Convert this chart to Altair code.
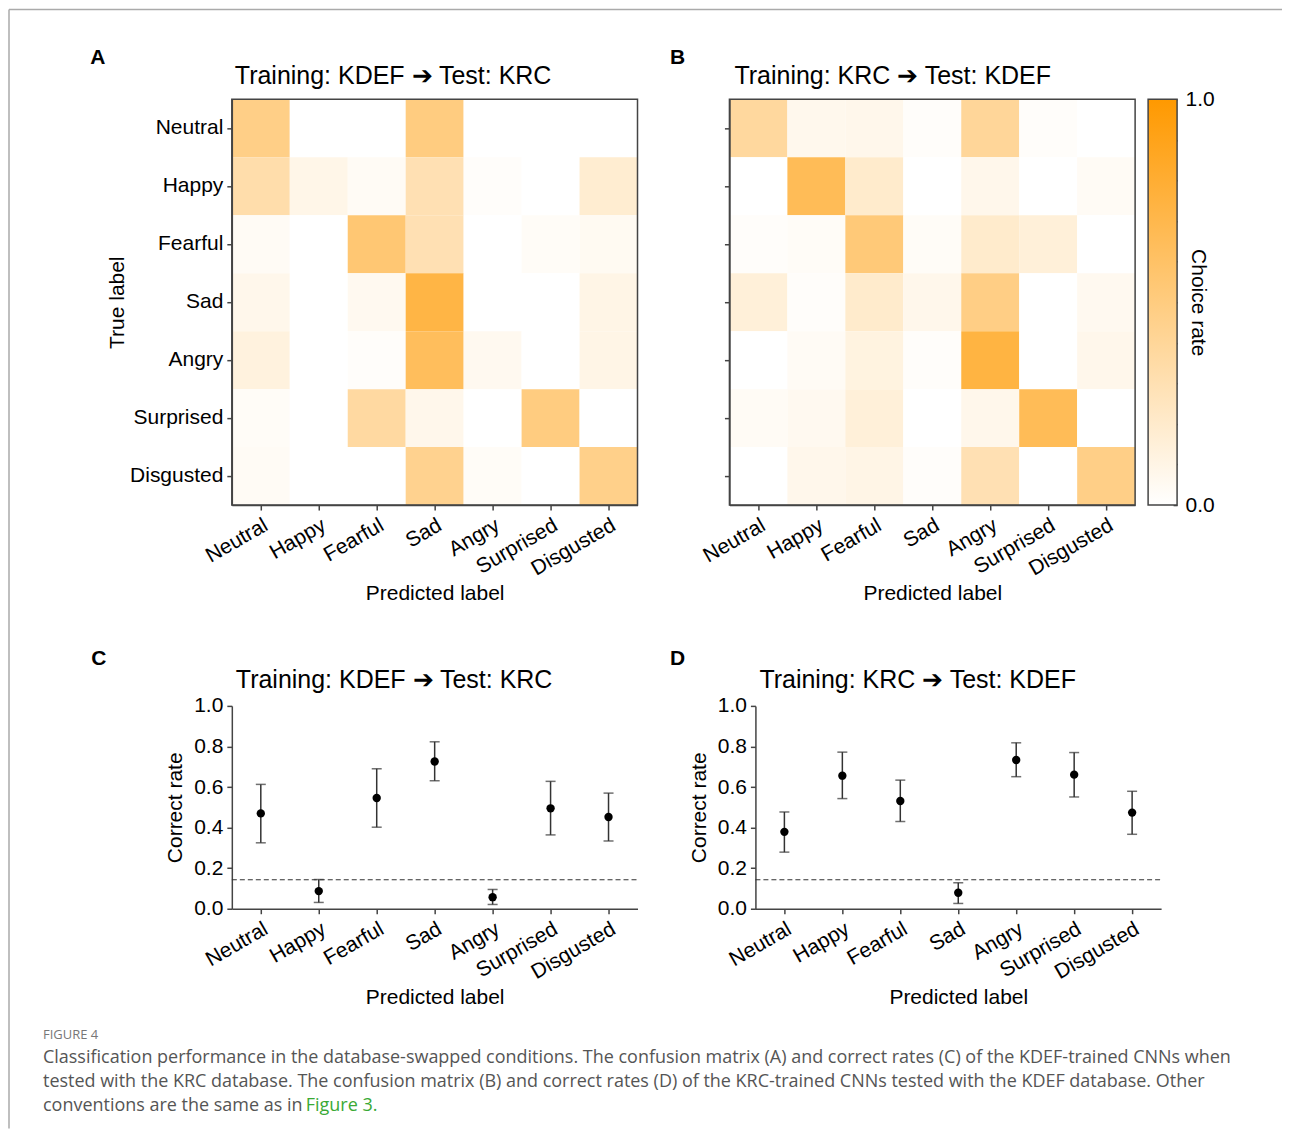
import altair as alt
import pandas as pd

# ---------------- data ----------------
emotions = ["Neutral", "Happy", "Fearful", "Sad", "Angry", "Surprised", "Disgusted"]

# confusion matrix A (rows = true label, columns = predicted label)
cm_a_neutral   = [0.47, 0.00, 0.00, 0.50, 0.00, 0.00, 0.00]
cm_a_happy     = [0.33, 0.09, 0.04, 0.30, 0.02, 0.00, 0.18]
cm_a_fearful   = [0.04, 0.00, 0.55, 0.30, 0.00, 0.03, 0.05]
cm_a_sad       = [0.08, 0.00, 0.06, 0.73, 0.00, 0.00, 0.10]
cm_a_angry     = [0.13, 0.00, 0.02, 0.64, 0.06, 0.00, 0.10]
cm_a_surprised = [0.03, 0.00, 0.37, 0.08, 0.00, 0.50, 0.00]
cm_a_disgusted = [0.04, 0.00, 0.00, 0.44, 0.03, 0.00, 0.46]
cm_a = [cm_a_neutral, cm_a_happy, cm_a_fearful, cm_a_sad, cm_a_angry, cm_a_surprised, cm_a_disgusted]

# confusion matrix B
cm_b_neutral   = [0.38, 0.07, 0.08, 0.02, 0.40, 0.02, 0.00]
cm_b_happy     = [0.00, 0.66, 0.20, 0.00, 0.08, 0.00, 0.04]
cm_b_fearful   = [0.02, 0.03, 0.53, 0.03, 0.20, 0.15, 0.00]
cm_b_sad       = [0.15, 0.02, 0.20, 0.08, 0.48, 0.00, 0.06]
cm_b_angry     = [0.00, 0.04, 0.12, 0.02, 0.74, 0.00, 0.08]
cm_b_surprised = [0.04, 0.06, 0.15, 0.00, 0.08, 0.66, 0.00]
cm_b_disgusted = [0.00, 0.08, 0.10, 0.02, 0.30, 0.00, 0.47]
cm_b = [cm_b_neutral, cm_b_happy, cm_b_fearful, cm_b_sad, cm_b_angry, cm_b_surprised, cm_b_disgusted]

# correct rates C
rate_c_mean = [0.470, 0.087, 0.546, 0.726, 0.057, 0.495, 0.452]
rate_c_lo   = [0.325, 0.031, 0.402, 0.631, 0.021, 0.364, 0.334]
rate_c_hi   = [0.613, 0.144, 0.690, 0.823, 0.095, 0.628, 0.570]

# correct rates D
rate_d_mean = [0.379, 0.656, 0.531, 0.079, 0.733, 0.661, 0.474]
rate_d_lo   = [0.279, 0.543, 0.430, 0.026, 0.651, 0.551, 0.367]
rate_d_hi   = [0.477, 0.772, 0.634, 0.128, 0.818, 0.770, 0.579]

chance = 1 / 7
colorbar_ticks = [0.0, 0.1, 0.2, 0.3, 0.4, 0.5, 0.6, 0.7, 0.8, 0.9, 1.0]
rate_ticks = [0.0, 0.2, 0.4, 0.6, 0.8, 1.0]

title_a = "Training: KDEF \u2794 Test: KRC"
title_b = "Training: KRC \u2794 Test: KDEF"

caption_head = "FIGURE 4"
caption_lines = [
    "Classification performance in the database-swapped conditions. The confusion matrix (A) and correct rates (C) of the KDEF-trained CNNs when",
    "tested with the KRC database. The confusion matrix (B) and correct rates (D) of the KRC-trained CNNs tested with the KDEF database. Other",
    "conventions are the same as in",
]
caption_link = "Figure 3."

# ---------------- style ----------------
FONT = "Liberation Sans"
CAP_FONT = "Open Sans"
W, H, H2 = 406, 406, 203
D_SHIFT = 26          # panel D sits further right than panel B
AX = "#444444"
one = pd.DataFrame({"d": [0]})

color_scale = alt.Scale(domain=[0, 1], range=["#ffffff", "#ff9900"], interpolate="rgb")
band = alt.Scale(paddingInner=0, paddingOuter=0)


def heat_df(cm):
    rows = []
    for i, t in enumerate(emotions):
        for j, p in enumerate(emotions):
            rows.append({"true": t, "pred": p, "rate": cm[i][j]})
    return pd.DataFrame(rows)


def text_layer(txt, x, y, size, color="black", weight="normal", font=FONT, align="left"):
    return alt.Chart(one).mark_text(
        text=txt, align=align, baseline="middle", font=font, fontSize=size,
        fontWeight=weight, color=color
    ).encode(x=alt.value(x), y=alt.value(y))


def heat_layers(cm, show_labels, letter, lx, title, tx):
    rect = alt.Chart(heat_df(cm)).mark_rect().encode(
        x=alt.X("pred:N", sort=emotions, scale=band,
                axis=alt.Axis(title="Predicted label", labelAngle=-30, labelAlign="right",
                              labelBaseline="top")),
        y=alt.Y("true:N", sort=emotions, scale=band,
                axis=alt.Axis(title="True label" if show_labels else None, labels=show_labels,
                              titlePadding=2)),
        color=alt.Color("rate:Q", scale=color_scale, legend=None),
    )
    border = alt.Chart(one).mark_rect(fillOpacity=0, stroke=AX, strokeWidth=1.5).encode(
        x=alt.value(0), x2=alt.value(W), y=alt.value(0), y2=alt.value(H)
    )
    return [rect, border,
            text_layer(letter, lx, -41, 21, weight="bold", align="center"),
            text_layer(title, tx, -23, 25)]


def rate_layers(mean, lo, hi, letter, lx, title, shift=0):
    df = pd.DataFrame({"emotion": emotions, "mean": mean, "lo": lo, "hi": hi})
    xs = alt.Scale(paddingInner=0, paddingOuter=0, range=[shift, shift + W])
    xenc = alt.X("emotion:N", sort=emotions, scale=xs,
                 axis=alt.Axis(title="Predicted label", labelAngle=-30, labelAlign="right",
                               labelBaseline="top"))
    yscale = alt.Scale(domain=[0, 1], nice=False)
    base = alt.Chart(df)
    bars = base.mark_rule(color="#333333", strokeWidth=1.5).encode(
        x=xenc,
        y=alt.Y("lo:Q", scale=yscale,
                axis=alt.Axis(title="Correct rate", values=rate_ticks, format=".1f",
                              titlePadding=8, offset=-shift)),
        y2="hi:Q",
    )
    cap_lo = base.mark_tick(color="#333333", thickness=1.5, size=10).encode(x=xenc, y="lo:Q")
    cap_hi = base.mark_tick(color="#333333", thickness=1.5, size=10).encode(x=xenc, y="hi:Q")
    pts = base.mark_circle(size=70, color="black", opacity=1).encode(x=xenc, y="mean:Q")
    dash = alt.Chart(pd.DataFrame({"chance": [chance]})).mark_rule(
        color="#333333", strokeWidth=1.2, strokeDash=[5, 3]
    ).encode(y=alt.Y("chance:Q", scale=yscale), x=alt.value(shift), x2=alt.value(shift + W))
    return [dash, bars, cap_lo, cap_hi, pts,
            text_layer(letter, lx + shift, -47, 21, weight="bold", align="center"),
            text_layer(title, 4 + shift, -26, 25)]


# colour bar (drawn to the right of panel B, with its own y scale)
CB_X0, CB_X1 = W + 13, W + 42
colorbar = alt.Chart(pd.DataFrame({"lo": [0.0], "hi": [1.0]})).mark_rect(
    fill=alt.LinearGradient(
        gradient="linear",
        stops=[alt.GradientStop(color="#ffffff", offset=0), alt.GradientStop(color="#ff9900", offset=1)],
        x1=0, x2=0, y1=1, y2=0,
    ),
    stroke=AX, strokeWidth=1.5,
).encode(
    x=alt.value(CB_X0), x2=alt.value(CB_X1),
    y=alt.Y("lo:Q", scale=alt.Scale(domain=[0, 1], nice=False),
            axis=alt.Axis(orient="right", values=colorbar_ticks, offset=CB_X1 - W - 4, tickSize=4,
                          domain=False, labelPadding=8, labelFlush=False,
                          labelExpr="datum.value == 0 || datum.value == 1 ? format(datum.value, '.1f') : ''",
                          title="Choice rate", titleAngle=90, titleX=24, titleY=H / 2,
                          titleAlign="center", titleBaseline="middle")),
    y2="hi:Q",
)

# frame lines around the figure (drawn from panel A)
frame_top = alt.Chart(one).mark_rule(color="#aaaaaa", strokeWidth=1.5).encode(
    x=alt.value(-223), x2=alt.value(1051), y=alt.value(-90))
frame_left = alt.Chart(one).mark_rule(color="#aaaaaa", strokeWidth=1.5).encode(
    x=alt.value(-223), y=alt.value(-90), y2=alt.value(1030))

panel_a = alt.layer(*heat_layers(cm_a, True, "A", -134, title_a, 3), frame_top, frame_left).properties(
    width=W, height=H)

panel_b = alt.layer(*heat_layers(cm_b, False, "B", -52, title_b, 5), colorbar).resolve_scale(
    y="independent").properties(width=W, height=H)

cap_layers = [
    text_layer(caption_head, -189, 329, 13, color="#777777", font=CAP_FONT),
    text_layer(caption_lines[0], -189, 352, 18, color="#555555", font=CAP_FONT),
    text_layer(caption_lines[1], -189, 376, 18, color="#555555", font=CAP_FONT),
    text_layer(caption_lines[2], -189, 400, 18, color="#555555", font=CAP_FONT),
    text_layer(caption_link, 74, 400, 18, color="#3aa935", font=CAP_FONT),
]
panel_c = alt.layer(*rate_layers(rate_c_mean, rate_c_lo, rate_c_hi, "C", -133, title_a),
                    *cap_layers).properties(width=W, height=H2)
panel_d = alt.layer(*rate_layers(rate_d_mean, rate_d_lo, rate_d_hi, "D", -78, title_b,
                                 shift=D_SHIFT)).properties(width=W + D_SHIFT, height=H2)

chart = alt.concat(
    panel_a, panel_b, panel_c, panel_d,
    columns=2, align="none", bounds="flush",
    spacing=alt.RowColnumber(row=201, column=92),
).properties(
    padding=0, background="white"
).configure_view(stroke=None).configure_axis(
    labelFont=FONT, titleFont=FONT, labelFontSize=21, titleFontSize=21,
    titleFontWeight="normal", labelColor="black", titleColor="black",
    domainColor=AX, tickColor=AX, domainWidth=1.5, tickWidth=1.5, tickSize=5,
    labelPadding=4, grid=False,
)

chart.save("out.html", embed_options={"renderer": "svg", "actions": False})
